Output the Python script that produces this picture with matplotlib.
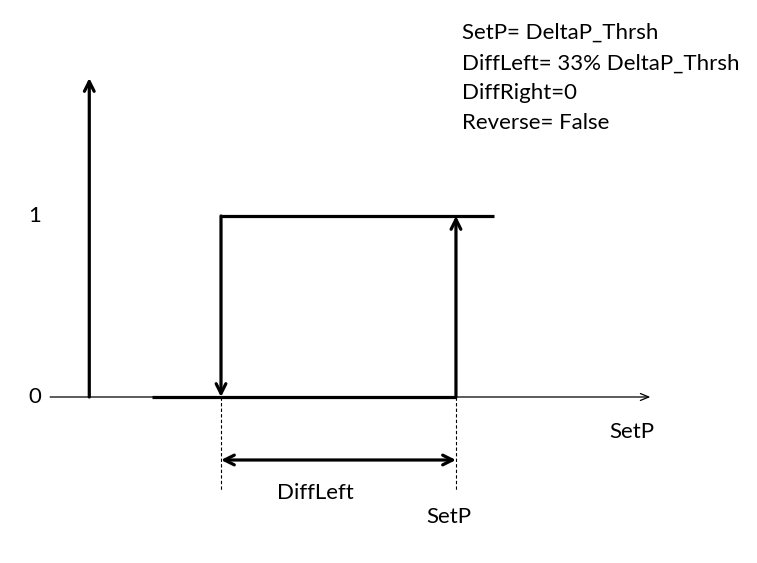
import matplotlib.pyplot as plt

plt.rcParams['font.family'] = ['Lato', 'DejaVu Sans']

# diagram values (SetP normalised to 1)
set_p = 1.0
diff_left = 0.33
low_level = 0
high_level = 1
out_start = 0.573      # where the lower output line begins
out_end = 1.053        # where the upper output line ends
yaxis_x = 0.485
xaxis_range = (0.430, 1.273)
yaxis_top = 1.762
level_labels = ['0', '1']
notes = ['SetP= DeltaP_Thrsh', 'DiffLeft= 33% DeltaP_Thrsh',
         'DiffRight=0', 'Reverse= False']

low_sw = set_p - diff_left

fig = plt.figure(figsize=(7.57, 5.63), dpi=100)
ax = fig.add_axes([0, 0, 1, 1])
ax.set_xlim(0.3596, 1.4228)
ax.set_ylim(-0.917, 2.193)
ax.axis('off')

thick = 2.3
head = dict(arrowstyle='->,head_length=0.7,head_width=0.35', lw=thick,
            color='black', shrinkA=0, shrinkB=0)

# x axis (thin)
ax.annotate('', xy=(xaxis_range[1], low_level), xytext=(xaxis_range[0], low_level),
            arrowprops=dict(arrowstyle='->,head_length=0.6,head_width=0.25',
                            lw=0.9, color='black', shrinkA=0, shrinkB=0))
# y axis (thick)
ax.annotate('', xy=(yaxis_x, yaxis_top), xytext=(yaxis_x, low_level), arrowprops=head)

# output lines
ax.plot([out_start, set_p], [low_level, low_level], color='black', lw=thick,
        solid_capstyle='butt')
ax.plot([low_sw, out_end], [high_level, high_level], color='black', lw=thick,
        solid_capstyle='butt')
ax.annotate('', xy=(low_sw, low_level), xytext=(low_sw, high_level), arrowprops=head)
ax.annotate('', xy=(set_p, high_level), xytext=(set_p, low_level), arrowprops=head)

# dashed guides
for xv in (low_sw, set_p):
    ax.plot([xv, xv], [low_level, -0.514], color='black', lw=0.8, ls=(0, (3, 2)))

# DiffLeft span
ax.annotate('', xy=(low_sw, -0.348), xytext=(set_p, -0.348),
            arrowprops=dict(arrowstyle='<->,head_length=0.7,head_width=0.35',
                            lw=thick, color='black', shrinkA=0, shrinkB=0))

fs = 16
ax.text(0.408, low_level, level_labels[0], fontsize=fs, ha='center', va='center')
ax.text(0.408, high_level, level_labels[1], fontsize=fs, ha='center', va='center')
ax.text(1.247, -0.195, 'SetP', fontsize=fs, ha='center', va='center')
ax.text(0.802, -0.53, 'DiffLeft', fontsize=fs, ha='center', va='center')
ax.text(set_p - 0.01, -0.665, 'SetP', fontsize=fs, ha='center', va='center')

for i, s in enumerate(notes):
    ax.text(1.009, 2.01 - i * 0.166, s, fontsize=fs, ha='left', va='center')

fig.savefig('out.png', dpi=100)
